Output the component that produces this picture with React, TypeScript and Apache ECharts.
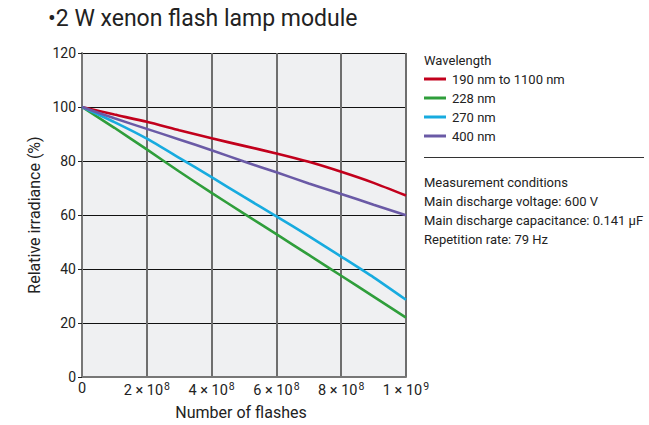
import React, { useEffect, useRef } from "react";
import * as echarts from "echarts";

const flashes = [0, 1e8, 2e8, 3e8, 4e8, 5e8, 6e8, 7e8, 8e8, 9e8, 1e9];
const seriesNames = ["190 nm to 1100 nm", "228 nm", "270 nm", "400 nm"];
const red = [100, 97.2, 94.5, 91.4, 88.4, 85.6, 82.8, 79.7, 76.0, 71.9, 67.2];
const green = [100, 92.3, 84.3, 76.1, 68.2, 60.5, 52.9, 45.2, 37.5, 29.8, 22.0];
const cyan = [100, 94.4, 88.3, 81.2, 74.0, 66.7, 59.5, 52.2, 44.6, 36.9, 28.6];
const purple = [100, 95.8, 91.9, 88.0, 84.0, 79.8, 75.8, 71.7, 67.8, 63.8, 59.9];
const colors = ["#c2001c", "#2f9e3b", "#17abdf", "#6a5aa6"];
const conditions = [
  "Measurement conditions",
  "Main discharge voltage: 600 V",
  "Main discharge capacitance: 0.141 \u00b5F",
  "Repetition rate: 79 Hz",
];
const xTickLabels: Record<number, string> = {
  0: "{a|0}",
  200000000: "{a|2 \u00d7 10}{s|8}",
  400000000: "{a|4 \u00d7 10}{s|8}",
  600000000: "{a|6 \u00d7 10}{s|8}",
  800000000: "{a|8 \u00d7 10}{s|8}",
  1000000000: "{a|1 \u00d7 10}{s|9}",
};

const FONT = "Roboto, 'Noto Sans', sans-serif";

export default function App() {
  const ref = useRef<HTMLDivElement>(null);
  useEffect(() => {
    if (!ref.current) return;
    const chart = echarts.init(ref.current, null, { renderer: "svg" });
    const allValues = [red, green, cyan, purple];
    chart.setOption({
      animation: false,
      textStyle: { fontFamily: FONT },
      title: {
        text: "\u20222 W xenon flash lamp module",
        left: 48,
        top: 7,
        padding: 0,
        textStyle: { fontFamily: FONT, fontSize: 23, fontWeight: "normal", color: "#222" },
      },
      grid: {
        left: 82,
        right: 243,
        top: 53,
        bottom: 47,
        show: true,
        backgroundColor: "#eff0f2",
        borderWidth: 0,
      },
      legend: {
        orient: "vertical",
        left: 424,
        top: 72,
        padding: 0,
        itemWidth: 22,
        itemHeight: 3,
        itemGap: 5,
        icon: "rect",
        data: seriesNames,
        textStyle: { fontFamily: FONT, fontSize: 13, color: "#222", lineHeight: 14, padding: [0, 0, 0, 1] },
      },
      xAxis: {
        type: "value",
        min: 0,
        max: 1e9,
        interval: 2e8,
        name: "Number of flashes",
        nameLocation: "middle",
        nameGap: 27,
        nameTextStyle: { fontFamily: FONT, fontSize: 16, color: "#222", padding: [0, 6, 0, 0] },
        axisLine: { show: true, lineStyle: { color: "#777", width: 2 } },
        axisTick: { show: false },
        splitLine: { show: true, lineStyle: { color: "#6e6e6e", width: 2 } },
        axisLabel: {
          margin: 4,
          formatter: (v: number) => xTickLabels[v] ?? "",
          rich: {
            a: { fontFamily: FONT, fontSize: 14.5, color: "#222" },
            s: { fontFamily: FONT, fontSize: 10.5, color: "#222", padding: [0, 0, 8, 1] },
          },
        },
      },
      yAxis: {
        type: "value",
        min: 0,
        max: 120,
        interval: 20,
        name: "Relative irradiance (%)",
        nameLocation: "middle",
        nameGap: 40,
        nameTextStyle: { fontFamily: FONT, fontSize: 16, color: "#222" },
        axisLine: { show: true, lineStyle: { color: "#777", width: 2 } },
        axisTick: { show: true, length: 4, lineStyle: { color: "#222", width: 1 } },
        splitLine: { show: true, lineStyle: { color: "#111", width: 1 } },
        axisLabel: { margin: 6, fontFamily: FONT, fontSize: 14, color: "#222" },
      },
      series: seriesNames.map((name, i) => ({
        name,
        type: "line",
        showSymbol: false,
        symbol: "none",
        smooth: 0.2,
        color: colors[i],
        lineStyle: { width: 2.6, color: colors[i] },
        data: flashes.map((x, j) => [x, allValues[i][j]]),
        z: 3,
      })),
      graphic: [
        {
          type: "text",
          left: 424,
          top: 54,
          style: { text: "Wavelength", fontFamily: FONT, fontSize: 13, fill: "#222" },
        },
        {
          type: "line",
          shape: { x1: 424, y1: 157.5, x2: 644, y2: 157.5 },
          style: { stroke: "#333", lineWidth: 1 },
        },
        ...conditions.map((t, i) => ({
          type: "text",
          left: 424,
          top: 176 + i * 19,
          style: { text: t, fontFamily: FONT, fontSize: 13, fill: "#222" },
        })),
      ],
    });
    return () => chart.dispose();
  }, []);
  return <div ref={ref} style={{ width: 649, height: 425, position: "absolute", left: 0, top: 0 }} />;
}
